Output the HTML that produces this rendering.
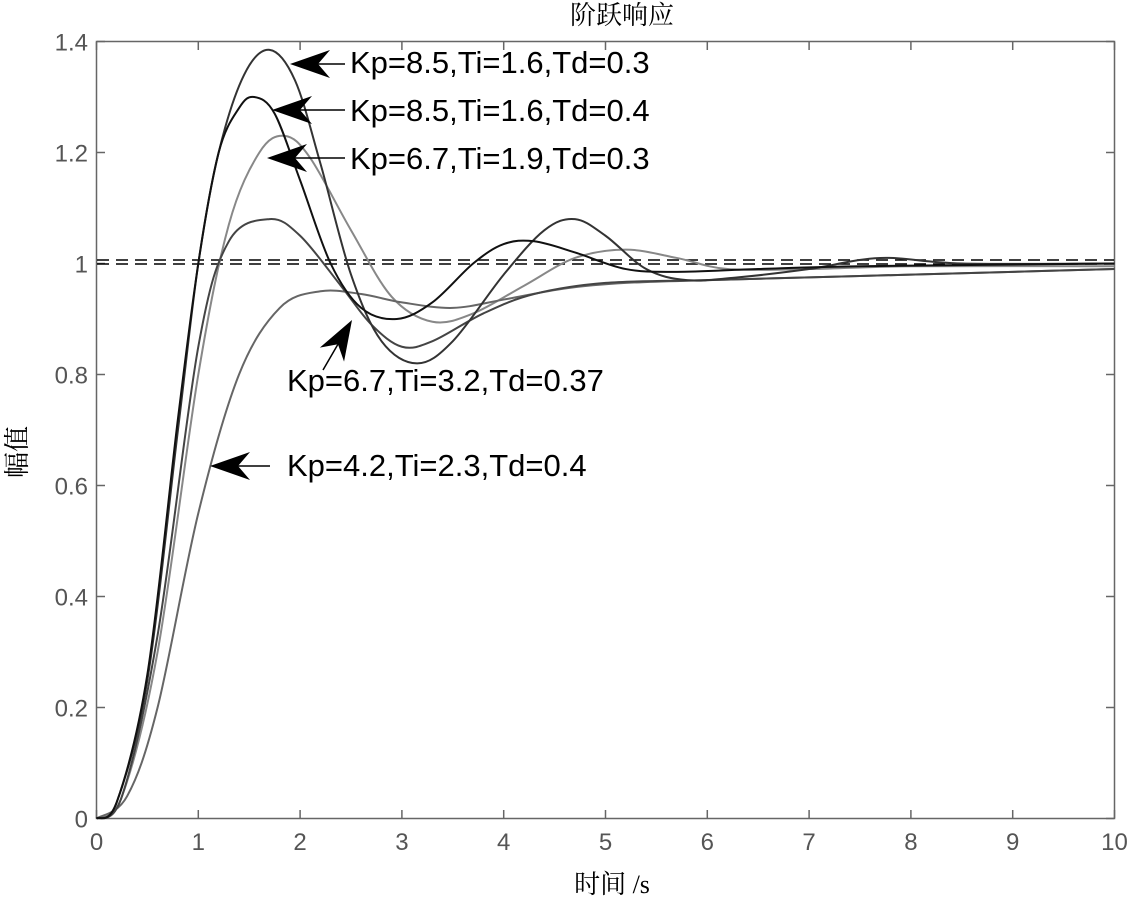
<!DOCTYPE html>
<html><head><meta charset="utf-8"><style>
body{margin:0;background:#fff;}
svg{display:block;}
.t{font-family:"Liberation Sans",Arial,sans-serif;font-size:24px;fill:#555;}
.l{font-family:"Liberation Sans",Arial,sans-serif;font-size:31px;fill:#000;}
.c{font-family:"Liberation Serif","Noto Serif CJK SC",serif;font-size:26px;fill:#000;}
</style></head><body>
<svg id="s" width="1129" height="899" xmlns="http://www.w3.org/2000/svg">
<rect x="96.5" y="41.5" width="1018" height="777" fill="none" stroke="#666" stroke-width="1.5"/>
<g id="ticks" stroke="#666" stroke-width="1.5"></g>
<g id="labels"></g>
<line x1="97" y1="260" x2="1114" y2="260" stroke="#000" stroke-width="1.5" stroke-dasharray="12,7"/>
<line x1="97" y1="264" x2="1114" y2="264" stroke="#000" stroke-width="1.5" stroke-dasharray="12,7"/>
<g id="curves" fill="none" stroke-width="2"></g>
<g id="arrows" stroke="#000" stroke-width="1.5"></g>
<text class="l" x="350" y="73">Kp=8.5,Ti=1.6,Td=0.3</text>
<text class="l" x="350" y="121">Kp=8.5,Ti=1.6,Td=0.4</text>
<text class="l" x="350" y="169">Kp=6.7,Ti=1.9,Td=0.3</text>
<text class="l" x="287" y="391">Kp=6.7,Ti=3.2,Td=0.37</text>
<text class="l" x="287" y="476">Kp=4.2,Ti=2.3,Td=0.4</text>
<text class="c" x="622" y="24" text-anchor="middle">阶跃响应</text>
<text class="c" x="612" y="893" text-anchor="middle">时间 /s</text>
<text class="c" x="0" y="0" text-anchor="middle" transform="translate(26,452) rotate(-90)">幅值</text>
</svg>
<script>
var NS="http://www.w3.org/2000/svg";
function X(t){return 96.5+t*101.8;}
function Y(v){return 818.5-v*555;}
var tk=document.getElementById("ticks"),lb=document.getElementById("labels");
function el(p,tag,a,txt){var e=document.createElementNS(NS,tag);for(var k in a)e.setAttribute(k,a[k]);if(txt!=null)e.textContent=txt;p.appendChild(e);}
for(var i=0;i<=10;i++){var x=X(i);el(tk,"line",{x1:x,y1:818,x2:x,y2:810});el(tk,"line",{x1:x,y1:42,x2:x,y2:50});
el(lb,"text",{class:"t",x:x,y:850,"text-anchor":"middle"},String(i));}
var yl=["0","0.2","0.4","0.6","0.8","1","1.2","1.4"];
for(var j=0;j<8;j++){var y=Y(j*0.2);el(tk,"line",{x1:97,y1:y,x2:105,y2:y});el(tk,"line",{x1:1114,y1:y,x2:1106,y2:y});
el(lb,"text",{class:"t",x:88,y:y+9,"text-anchor":"end"},yl[j]);}
var C=[
["#888",[[0,0],[0.25,0.04],[0.6,0.3],[1.0,0.8],[1.3,1.07],[1.6,1.2],[1.85,1.23],[2.1,1.19],[2.5,1.06],[2.9,0.94],[3.3,0.895],[3.7,0.91],[4.2,0.96],[4.7,1.01],[5.2,1.025],[5.7,1.01],[6.2,0.99],[7,0.99],[8,0.995],[10,0.995]]],
["#666",[[0,0],[0.3,0.04],[0.6,0.2],[1.0,0.55],[1.4,0.80],[1.8,0.92],[2.2,0.95],[2.6,0.945],[3.0,0.93],[3.5,0.92],[4.0,0.935],[4.6,0.955],[5.2,0.965],[6,0.97],[7,0.975],[8,0.98],[9,0.985],[10,0.99]]],
["#444",[[0,0],[0.25,0.04],[0.6,0.33],[1.0,0.85],[1.3,1.04],[1.7,1.08],[2.0,1.05],[2.4,0.96],[2.7,0.89],[3.0,0.85],[3.3,0.86],[3.8,0.91],[4.3,0.945],[5,0.965],[6,0.97],[7,0.975],[8,0.98],[9,0.985],[10,0.99]]],
["#333",[[0,0],[0.2,0.03],[0.5,0.25],[0.8,0.7],[1.0,1.0],[1.2,1.2],[1.45,1.34],[1.7,1.385],[1.95,1.33],[2.2,1.18],[2.5,0.98],[2.8,0.86],[3.15,0.82],[3.5,0.86],[4.0,0.98],[4.4,1.06],[4.7,1.08],[5.0,1.05],[5.4,0.99],[5.8,0.97],[6.3,0.975],[7,0.99],[7.7,1.01],[8.5,1.0],[10,1.0]]],
["#111",[[0,0],[0.2,0.03],[0.5,0.26],[0.8,0.72],[1.0,1.0],[1.2,1.2],[1.4,1.28],[1.55,1.30],[1.75,1.27],[2.0,1.15],[2.3,1.0],[2.6,0.92],[2.95,0.90],[3.3,0.93],[3.7,1.0],[4.0,1.035],[4.3,1.04],[4.7,1.02],[5.2,0.99],[5.7,0.985],[6.5,0.99],[7.5,0.995],[10,1.0]]]
];
var cg=document.getElementById("curves");
C.forEach(function(c){var p=c[1].map(function(q){return [X(q[0]),Y(q[1])];});
var d="M"+p[0][0]+","+p[0][1];
for(var i=0;i<p.length-1;i++){var p0=p[Math.max(i-1,0)],p1=p[i],p2=p[i+1],p3=p[Math.min(i+2,p.length-1)];
d+=" C"+(p1[0]+(p2[0]-p0[0])/6)+","+(p1[1]+(p2[1]-p0[1])/6)+" "+(p2[0]-(p3[0]-p1[0])/6)+","+(p2[1]-(p3[1]-p1[1])/6)+" "+p2[0]+","+p2[1];}
el(cg,"path",{d:d,stroke:c[0]});});
var ag=document.getElementById("arrows");
function arrow(x1,y1,tx,ty){var dx=tx-x1,dy=ty-y1,L=Math.sqrt(dx*dx+dy*dy);dx/=L;dy/=L;var nx=-dy,ny=dx;
var hl=40,hw=14,nl=28;
el(ag,"line",{x1:x1,y1:y1,x2:tx-dx*nl,y2:ty-dy*nl});
var pts=[[tx,ty],[tx-dx*hl+nx*hw,ty-dy*hl+ny*hw],[tx-dx*nl,ty-dy*nl],[tx-dx*hl-nx*hw,ty-dy*hl-ny*hw]];
el(ag,"polygon",{points:pts.map(function(p){return p.join(",");}).join(" "),fill:"#000",stroke:"none"});}
arrow(345,64,290,64);
arrow(345,110,272,110);
arrow(345,158,267,158);
arrow(323,370,352,320);
arrow(270,466,210,466);
</script>
</body></html>
